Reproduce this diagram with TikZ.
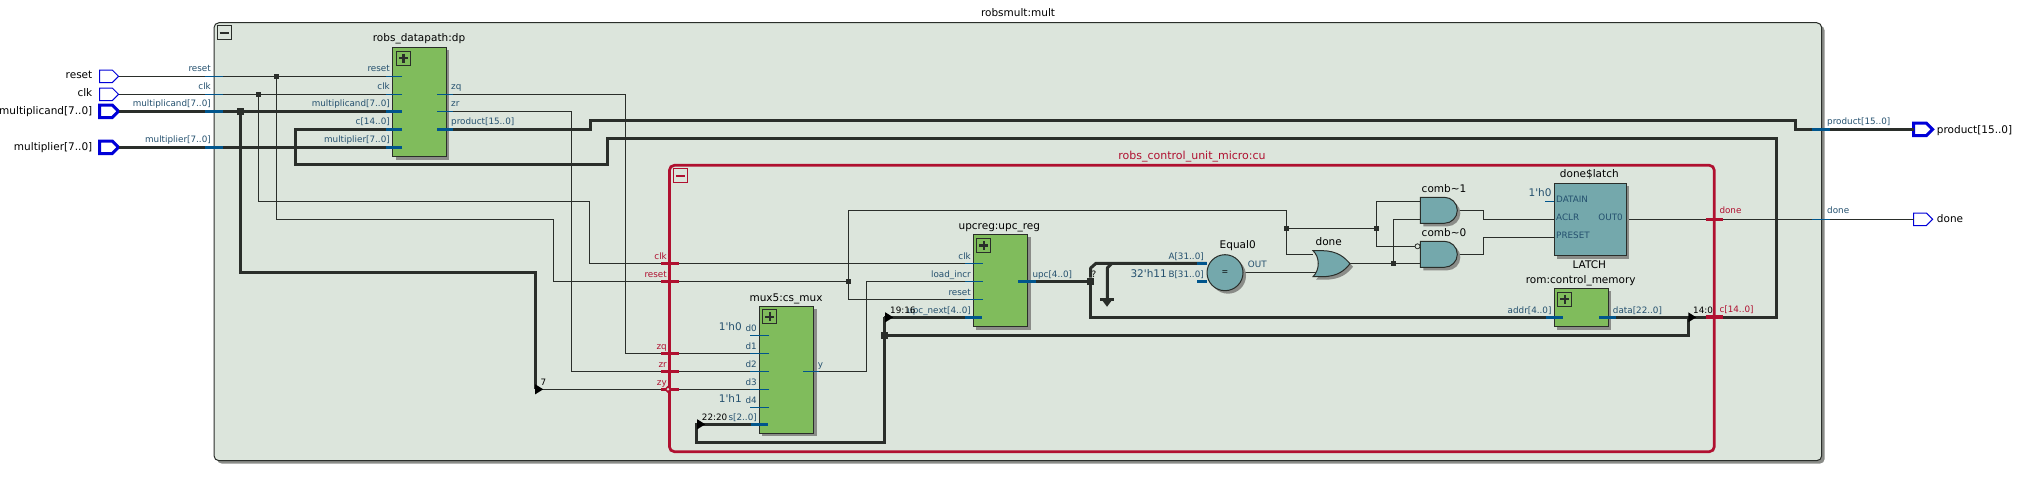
\documentclass[tikz,border=0pt]{standalone}
\usepackage{fontspec}
\setmainfont{DejaVu Sans}
\usetikzlibrary{shapes.geometric,shapes.symbols,shadows}
\definecolor{panelfill}{HTML}{DCE5DC}
\definecolor{wirecol}{HTML}{2A2E2A}
\definecolor{cellgreen}{HTML}{80BC5C}
\definecolor{cellteal}{HTML}{74A8AC}
\definecolor{cured}{HTML}{B01030}
\definecolor{pinblue}{HTML}{0000D8}
\definecolor{stubblue}{HTML}{00558C}
\definecolor{labblue}{HTML}{24506E}
\definecolor{shadowgrey}{HTML}{8A8C88}
\newcommand{\apos}{\textquotesingle}
\tikzset{
  shade3/.style={drop shadow={shadow xshift=3pt,shadow yshift=-3pt,fill=shadowgrey,opacity=1}},
  panel/.style={draw=wirecol,line width=1pt,fill=panelfill,rounded corners=5pt,shade3},
  cubox/.style={draw=cured,line width=2.7pt,rounded corners=5pt},
  block/.style={draw=wirecol,line width=1pt,fill=#1,shade3,anchor=north west,inner sep=0pt,outer sep=0pt},
  wire/.style={draw=wirecol,line width=1pt},
  bus/.style={draw=wirecol,line width=3pt},
  stub/.style={draw=stubblue,line width=1pt},
  busstub/.style={draw=stubblue,line width=3pt},
  cutick/.style={draw=cured,line width=2.5pt},
  cubustick/.style={draw=cured,line width=4pt},
  port/.style={signal,signal to=east,draw=pinblue,fill=white,line width=#1,inner sep=0pt,outer sep=0pt,minimum width=19pt,minimum height=12.5pt},
  dot/.style={rectangle,fill=wirecol,inner sep=0pt,minimum size=#1},
  ripper/.style={isosceles triangle,isosceles triangle stretches,fill=black,inner sep=0pt,minimum height=8pt,minimum width=10pt},
  namelab/.style={font=\fontsize{10.5}{12}\selectfont,text=black,inner sep=0pt,anchor=base},
  portlab/.style={namelab,anchor=base east},
  pinlab/.style={font=\fontsize{8.8}{10}\selectfont,text=labblue,inner sep=0pt,anchor=base east},
  pinlabr/.style={pinlab,anchor=base west},
  redlab/.style={pinlab,text=cured},
  redlabr/.style={pinlabr,text=cured},
  constlab/.style={namelab,text=labblue,anchor=base east},
  riplab/.style={font=\fontsize{8.8}{10}\selectfont,text=black,inner sep=0pt,anchor=base west},
  plusbox/.style={draw=#1,line width=1pt,anchor=north west,inner sep=0pt,minimum size=14pt,
    path picture={\draw [#1,line width=2.4pt] ([xshift=2.5pt]path picture bounding box.west) -- ([xshift=-2.5pt]path picture bounding box.east);
      \draw [#1,line width=2.4pt] ([yshift=-2.5pt]path picture bounding box.north) -- ([yshift=2.5pt]path picture bounding box.south);}},
  minusbox/.style={draw=#1,line width=1pt,anchor=north west,inner sep=0pt,minimum size=14pt,
    path picture={\draw [#1,line width=2.4pt] ([xshift=2.5pt]path picture bounding box.west) -- ([xshift=-2.5pt]path picture bounding box.east);}},
}
\newcommand{\andgate}[2]{
  \draw [draw=wirecol,line width=1pt,fill=cellteal,shade3] (#1,#2) -- ++(24,0) arc [start angle=90,end angle=-90,radius=13pt] -- ++(-24,0) -- cycle;
}
\begin{document}
\begin{tikzpicture}[x=1pt,y=-1pt]
  \useasboundingbox (0,0) rectangle (2025,494);

  \node [namelab] (multtitle) at (1018,17) {robsmult:mult};
  \draw [panel] (214,22.7) rectangle (1821.7,460.7);
  \node [minusbox=wirecol] (multminus) at (216.5,25.3) {};
  \draw [cubox] (669.4,165.3) rectangle (1714.3,451.7);
  \node [minusbox=cured] (cuminus) at (673,168.3) {};
  \node [redlab,anchor=base] (cutitle) at (1192,159.5) {\fontsize{11}{12}\selectfont robs\_control\_unit\_micro:cu};

  \node [port=1pt] (reset) at (105.9,76.3) {};
  \node [port=1pt] (clk) at (105.9,94.3) {};
  \node [port=3pt] (multiplicand) at (105.9,111.3) {};
  \node [port=3pt] (multiplier) at (105.9,147.3) {};
  \node [port=3pt] (product) at (1920,129.3) {};
  \node [port=1pt] (done) at (1920,219.3) {};

  \coordinate (dpreset) at (402,76.3);
  \coordinate (dpclk) at (402,94.3);
  \coordinate (dpcand) at (402,111.3);
  \coordinate (dpc) at (402,129.3);
  \coordinate (dpmult) at (402,147.3);
  \coordinate (dpzq) at (437,94.3);
  \coordinate (dpzr) at (437,111.3);
  \coordinate (dpprod) at (437,129.3);
  \coordinate (curesetin) at (669.4,281.3);
  \coordinate (cuclkin) at (669.4,263.3);
  \coordinate (cuzq) at (669.4,353.3);
  \coordinate (cuzr) at (669.4,371.3);
  \coordinate (cuzy) at (669.4,389.3);
  \coordinate (cuc) at (1714.3,317.3);
  \coordinate (muxd1) at (769,353.3);
  \coordinate (muxd2) at (769,371.3);
  \coordinate (muxd3) at (769,389.3);
  \coordinate (muxs) at (767.7,424.3);
  \coordinate (muxy) at (803,371.3);
  \coordinate (upcclk) at (982.7,263.3);
  \coordinate (upcload) at (982.7,281.3);
  \coordinate (upcreset) at (982.7,299.3);
  \coordinate (upcnext) at (981.7,317.3);
  \coordinate (upcout) at (1018.3,281.3);
  \coordinate (eqa) at (1206.7,263.3);
  \coordinate (eqb) at (1206.7,281.3);
  \coordinate (eqout) at (1243,272.3);
  \coordinate (orina) at (1313,254.3);
  \coordinate (orinb) at (1316,272.3);
  \coordinate (orout) at (1350,263.3);
  \coordinate (combaa) at (1420,201.3);
  \coordinate (combab) at (1420,219.3);
  \coordinate (combba) at (1415,246.3);
  \coordinate (combbb) at (1420,263.3);
  \coordinate (combaout) at (1457.7,210.3);
  \coordinate (combbout) at (1457.7,254.3);
  \coordinate (latchaclr) at (1554.3,219.3);
  \coordinate (latchpreset) at (1554.3,237.3);
  \coordinate (latchout) at (1626,219.3);
  \coordinate (romaddr) at (1562.7,317.3);
  \coordinate (romdata) at (1599,317.3);

  \coordinate (bendreset) at (553.6,219.3);
  \coordinate (bendclk) at (589.3,201.3);
  \coordinate (bendzq) at (625.5,94.3);
  \coordinate (bendzr) at (571.2,111.3);
  \coordinate (bendcand) at (535.5,272.3);
  \coordinate (bendseven) at (535.5,389.3);
  \coordinate (bendca) at (295,129.3);
  \coordinate (bendcb) at (607.4,165);
  \coordinate (bendcc) at (1776.7,138.3);
  \coordinate (bendpa) at (590,129.3);
  \coordinate (bendpb) at (1795,120.3);
  \coordinate (bendtop) at (1286.7,210.3);
  \coordinate (bendy) at (866.7,281.3);
  \coordinate (bendaclr) at (1483.3,219.3);
  \coordinate (bendpreset) at (1483.3,237.3);
  \coordinate (bendbus) at (1688.3,335.3);
  \coordinate (bendrip) at (1688.3,317.3);
  \coordinate (bendsel) at (696.7,442.3);
  \coordinate (bendselup) at (696.7,424.3);
  \coordinate (bendnext) at (884.3,317.3);
  \coordinate (upcupa) at (1090.7,268);
  \coordinate (upcupb) at (1096,263.3);
  \coordinate (gndtopa) at (1112,263.3);
  \coordinate (gndtopb) at (1107.3,268);
  \coordinate (gndend) at (1107.3,299.3);

  \node [dot=5pt] (jreset) at (276.4,76.3) {};
  \node [dot=5pt] (jclk) at (258.3,94.3) {};
  \node [dot=7pt] (jcand) at (240.6,111.3) {};
  \node [dot=5pt] (jrstcu) at (848.3,281.3) {};
  \node [dot=7pt] (jbus) at (884.3,335.3) {};
  \node [dot=7pt] (jupc) at (1090.7,281.3) {};
  \node [dot=5pt] (jtop) at (1286.7,228.3) {};
  \node [dot=5pt] (jcomb) at (1376.3,228.3) {};
  \node [dot=5pt] (jor) at (1393.3,263.3) {};

  \draw [wire] (reset.east) -- (dpreset);
  \draw [wire] (clk.east) -- (dpclk);
  \draw [wire] (jreset) |- (bendreset) |- (curesetin);
  \draw [wire] (jclk) |- (bendclk) |- (cuclkin);
  \draw [wire] (dpzq) -- (bendzq) |- (cuzq);
  \draw [wire] (dpzr) -- (bendzr) |- (cuzr);
  \draw [wire] (cuclkin) -- (upcclk);
  \draw [wire] (curesetin) -- (jrstcu);
  \draw [wire] (jrstcu) |- (upcreset);
  \draw [wire] (jrstcu) |- (bendtop) |- (orina);
  \draw [wire] (cuzq) -- (muxd1);
  \draw [wire] (cuzr) -- (muxd2);
  \draw [wire] (bendseven) -- (muxd3);
  \draw [wire] (muxy) -| (bendy) -- (upcload);
  \draw [wire] (jtop) -- (jcomb);
  \draw [wire] (jcomb) |- (combaa);
  \draw [wire] (jcomb) |- (combba);
  \draw [wire] (orout) -- (jor) -- (combbb);
  \draw [wire] (jor) |- (combab);
  \draw [wire] (eqout) -- (orinb);
  \draw [wire] (combaout) -| (bendaclr) -- (latchaclr);
  \draw [wire] (combbout) -| (bendpreset) -- (latchpreset);
  \draw [wire] (latchout) -- (done.west);

  \draw [bus] (multiplicand.east) -- (dpcand);
  \draw [bus] (multiplier.east) -- (dpmult);
  \draw [bus] (jcand) |- (bendcand) -- (bendseven);
  \draw [bus] (dpc) -- (bendca) |- (bendcb) |- (bendcc) |- (cuc);
  \draw [bus] (dpprod) -- (bendpa) |- (bendpb) |- (product.west);
  \draw [bus] (upcout) -- (jupc) |- (romaddr);
  \draw [bus,line join=bevel] (jupc) -- (upcupa) -- (upcupb) -- (eqa);
  \draw [bus,line join=bevel] (gndtopa) -- (gndtopb) -- (gndend);
  \draw [bus] (romdata) -- (cuc);
  \draw [bus] (jbus) -- (bendbus) -- (bendrip);
  \draw [bus] (bendnext) -- (jbus) |- (bendsel) -- (bendselup) -- (muxs);
  \draw [bus] (bendnext) -- (upcnext);

  \node [ripper] (ripseven) at (538,389.3) {};
  \node [ripper] (riptop) at (888,317.3) {};
  \node [ripper] (ripsel) at (700,424.3) {};
  \node [ripper] (ripc) at (1691,317.3) {};
  \node [fill=wirecol,inner sep=0pt,minimum width=14pt,minimum height=3pt] (gndbar) at (1107,299.5) {};
  \node [isosceles triangle,isosceles triangle stretches,fill=wirecol,inner sep=0pt,minimum height=6pt,minimum width=9pt,shape border rotate=-90] (gndtip) at (1107,303) {};

  \node [block=cellgreen,minimum width=53.8pt,minimum height=109.4pt] (dp) at (392.6,47.3) {};
  \node [block=cellgreen,minimum width=54.4pt,minimum height=127pt] (mux) at (759.3,306.3) {};
  \node [block=cellgreen,minimum width=54.4pt,minimum height=92.4pt] (upc) at (973.3,234.3) {};
  \node [block=cellgreen,minimum width=54.3pt,minimum height=38.4pt] (rom) at (1554,288.3) {};
  \node [block=cellteal,minimum width=72pt,minimum height=72.4pt] (latch) at (1554,183.3) {};
  \node [plusbox=wirecol] (dpplus) at (396,50.7) {};
  \node [plusbox=wirecol] (muxplus) at (762.3,309.3) {};
  \node [plusbox=wirecol] (upcplus) at (976.3,238) {};
  \node [plusbox=wirecol] (romplus) at (1557.3,291.7) {};

  \node [circle,draw=wirecol,line width=1pt,fill=cellteal,shade3,inner sep=0pt,minimum size=36pt] (equal) at (1225,272.7) {\fontsize{8}{9}\selectfont =};
  \draw [draw=wirecol,line width=1pt,fill=cellteal,shade3] (1313,250.7) -- (1322,250.7) .. controls (1338,250.7) and (1345,258) .. (1350,263.7) .. controls (1345,270) and (1338,276.7) .. (1322,276.7) -- (1313,276.7) .. controls (1320,270) and (1320,257) .. (1313,250.7) -- cycle;
  \andgate{1420.3}{197.3}
  \andgate{1420.3}{241.3}
  \node [circle,draw=wirecol,line width=0.8pt,fill=panelfill,inner sep=0pt,minimum size=5pt] (bubble) at (1417.5,246.3) {};

  \foreach \ypos in {76.3,94.3} \draw [stub] (205,\ypos) -- (223,\ypos);
  \foreach \ypos in {111.3,147.3} \draw [busstub] (205,\ypos) -- (223,\ypos);
  \draw [busstub] (1812,129.3) -- (1830,129.3);
  \draw [stub] (1812,219.3) -- (1830,219.3);
  \foreach \ypos in {76.3,94.3} \draw [stub] (dpreset |- 0,\ypos) -- ++(-16,0);
  \foreach \ypos in {111.3,129.3,147.3} \draw [busstub] (dpreset |- 0,\ypos) -- ++(-16,0);
  \foreach \ypos in {94.3,111.3} \draw [stub] (dpzq |- 0,\ypos) -- ++(16,0);
  \draw [busstub] (dpprod) -- ++(16,0);
  \foreach \ypos in {335.3,353.3,371.3,389.3,407.3} \draw [stub] (muxd1 |- 0,\ypos) -- ++(-19,0);
  \draw [busstub] (muxs) -- ++(-17,0);
  \draw [stub] (muxy) -- ++(16,0);
  \foreach \ypos in {263.3,281.3,299.3} \draw [stub] (upcclk |- 0,\ypos) -- ++(-18,0);
  \draw [busstub] (upcnext) -- ++(-17,0);
  \draw [busstub] (upcout) -- ++(18,0);
  \draw [busstub] (eqa) -- ++(-10,0);
  \draw [busstub] (eqb) -- ++(-10,0);
  \draw [stub] (1545,201.3) -- (1554,201.3);
  \draw [busstub] (romaddr) -- ++(-17,0);
  \draw [busstub] (romdata) -- ++(17,0);

  \foreach \ypos in {263.3,281.3,353.3,371.3,389.3} \draw [cutick] (661,\ypos) -- (679,\ypos);
  \node [diamond,draw=cured,line width=1.5pt,fill=panelfill,inner sep=0pt,minimum size=6pt] (zymark) at (668,389.3) {};
  \draw [cutick] (1705.7,219.3) -- (1723.3,219.3);
  \draw [cubustick] (1705.7,317.3) -- (1723.3,317.3);

  \node [portlab] (lreset) at (92.5,79) {reset};
  \node [portlab] (lclk) at (92.5,97) {clk};
  \node [portlab] (lcand) at (92.5,115) {multiplicand[7..0]};
  \node [portlab] (lmult) at (92.5,151) {multiplier[7..0]};
  \node [namelab,anchor=base west] (lproduct) at (1936.7,133.5) {product[15..0]};
  \node [namelab,anchor=base west] (ldone) at (1936.7,223) {done};

  \node [pinlab] (preset) at (211,71.5) {reset};
  \node [pinlab] (pclk) at (211,89.5) {clk};
  \node [pinlab] (pcand) at (211,106.5) {multiplicand[7..0]};
  \node [pinlab] (pmult) at (211,142.5) {multiplier[7..0]};
  \node [pinlabr] (pproduct) at (1827,124.5) {product[15..0]};
  \node [pinlabr] (pdone) at (1827,214) {done};

  \node [namelab] (tdp) at (419,42) {robs\_datapath:dp};
  \node [pinlab] (dlreset) at (390,72) {reset};
  \node [pinlab] (dlclk) at (390,90) {clk};
  \node [pinlab] (dlcand) at (390,107) {multiplicand[7..0]};
  \node [pinlab] (dlc) at (390,125) {c[14..0]};
  \node [pinlab] (dlmult) at (390,143) {multiplier[7..0]};
  \node [pinlabr] (dlzq) at (451,90) {zq};
  \node [pinlabr] (dlzr) at (451,107) {zr};
  \node [pinlabr] (dlprod) at (451,125) {product[15..0]};

  \node [redlab] (rclk) at (667,259) {clk};
  \node [redlab] (rreset) at (667,277) {reset};
  \node [redlab] (rzq) at (667,349) {zq};
  \node [redlab] (rzr) at (667,367) {zr};
  \node [redlab] (rzy) at (667,385) {zy};
  \node [redlabr] (rdone) at (1719.3,214) {done};
  \node [redlabr] (rc) at (1719.3,312) {c[14..0]};

  \node [namelab] (tmux) at (786,301.5) {mux5:cs\_mux};
  \node [pinlab] (mdzero) at (757,331) {d0};
  \node [pinlab] (mdone) at (757,349) {d1};
  \node [pinlab] (mdtwo) at (757,367) {d2};
  \node [pinlab] (mdthree) at (757,385) {d3};
  \node [pinlab] (mdfour) at (757,403) {d4};
  \node [pinlab] (ms) at (757,420) {s[2..0]};
  \node [pinlabr] (my) at (817.7,367) {y};
  \node [constlab] (czero) at (742,330.5) {1\apos h0};
  \node [constlab] (cone) at (742,402.5) {1\apos h1};
  \node [riplab] (lsel) at (701.7,420) {22:20};

  \node [namelab] (tupc) at (999.3,230) {upcreg:upc\_reg};
  \node [pinlab] (uclk) at (971,259) {clk};
  \node [pinlab] (uload) at (971,277) {load\_incr};
  \node [pinlab] (ureset) at (971,295) {reset};
  \node [pinlab] (unext) at (971,313) {upc\_next[4..0]};
  \node [pinlabr] (uout) at (1032.3,277) {upc[4..0]};
  \node [riplab] (ltop) at (890,313) {19:16};
  \node [riplab] (lqm) at (1091.5,277) {?};

  \node [namelab] (teq) at (1237.7,248.5) {Equal0};
  \node [pinlab] (ea) at (1204,259) {A[31..0]};
  \node [pinlab] (eb) at (1204,277) {B[31..0]};
  \node [pinlabr] (eo) at (1247.7,268) {OUT};
  \node [constlab] (cel) at (1167,277) {32\apos h11};

  \node [namelab] (tor) at (1328.7,245.5) {done};
  \node [namelab] (tcomba) at (1444,192.5) {comb\textasciitilde 1};
  \node [namelab] (tcombb) at (1444,236.5) {comb\textasciitilde 0};

  \node [namelab] (tlatch) at (1589.3,177.5) {done\$latch};
  \node [namelab] (blatch) at (1589.3,268.5) {LATCH};
  \node [pinlabr] (ldatain) at (1556,203) {DATAIN};
  \node [pinlabr] (laclr) at (1556,221) {ACLR};
  \node [pinlabr] (lpreset) at (1556,239) {PRESET};
  \node [pinlab] (lout) at (1623,221) {OUT0};
  \node [constlab] (clatch) at (1551.7,197) {1\apos h0};

  \node [namelab] (trom) at (1580.7,283.5) {rom:control\_memory};
  \node [pinlab] (raddr) at (1551.7,313) {addr[4..0]};
  \node [pinlabr] (rdata) at (1612.7,313) {data[22..0]};
  \node [riplab] (lc) at (1693,313) {14:0};
  \node [riplab] (lseven) at (540.5,385) {7};
\end{tikzpicture}
\end{document}
